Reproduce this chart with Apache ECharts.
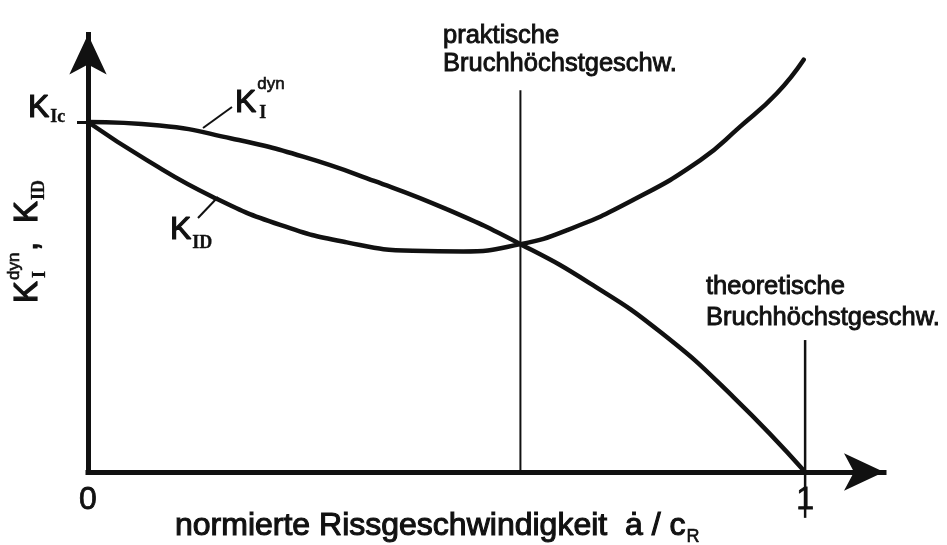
<!DOCTYPE html>
<html>
<head>
<meta charset="utf-8">
<script src="https://cdn.jsdelivr.net/npm/echarts@6/dist/echarts.min.js"></script>
<style>
  html, body { margin: 0; padding: 0; background: #fff; }
  #chart { width: 947px; height: 545px; }
</style>
</head>
<body>
<div id="chart"></div>
<script>
// Dynamic stress intensity K_I^dyn vs. crack-arrest toughness K_ID,
// over normalised crack speed a/c_R (both relative to K_Ic = 1).
const kDynX = [0, 0.100, 0.200, 0.300, 0.400, 0.500, 0.603, 0.700, 0.800, 0.900, 1.000];
const kDynY = [1.000, 0.990, 0.953, 0.901, 0.831, 0.751, 0.651, 0.539, 0.397, 0.214, 0.000];

const kIdX = [0, 0.082, 0.174, 0.268, 0.361, 0.453, 0.523, 0.603, 0.668, 0.760, 0.854, 0.909, 0.961, 0.998];
const kIdY = [1.000, 0.891, 0.786, 0.706, 0.656, 0.632, 0.630, 0.651, 0.691, 0.777, 0.891, 0.986, 1.083, 1.178];

// practical maximum crack speed (intersection) and theoretical maximum (a/c_R = 1)
const practicalX = [0.603, 0.603];
const practicalY = [0, 1.091];
const theoreticalX = [1.0, 1.0];
const theoreticalY = [-0.131, 0.377];

const xTickLabels = ['0', '1'];
const kIcValue = 1;

const INK = '#111111';
const SANS = "'Liberation Sans', Arial, sans-serif";
const SERIF = "'Liberation Serif', 'Times New Roman', serif";

const pairs = (xs, ys) => xs.map((x, i) => [x, ys[i]]);

const measureCtx = document.createElement('canvas').getContext('2d');
function widthOf(str, font) { measureCtx.font = font; return measureCtx.measureText(str).width; }
function fontOf(size, family, weight) { return (weight || 'normal') + ' ' + size + 'px ' + family; }

// text placed by its left edge and alphabetic baseline
function label(str, x, baseline, size, family, weight, heavy) {
  return {
    type: 'text', x: x, y: baseline - 0.36 * size, silent: true,
    style: {
      text: str, font: fontOf(size, family, weight), fill: INK,
      stroke: INK, lineWidth: heavy == null ? 0.9 : heavy,
      textAlign: 'left', textVerticalAlign: 'middle'
    }
  };
}
function leader(x1, y1, x2, y2) {
  return { type: 'line', silent: true, shape: { x1, y1, x2, y2 }, style: { stroke: INK, lineWidth: 2 } };
}

const K_SIZE = 32, SUB_SIZE = 18, SUP_SIZE = 17, NOTE_SIZE = 25.5;
const kW = widthOf('K', fontOf(K_SIZE, SANS));

const graphics = [];
// K_Ic next to the y-axis tick
graphics.push(label('K', 28, 120, K_SIZE, SANS, 'normal', 1.2));
graphics.push(label('Ic', 28 + kW + 1, 124, SUB_SIZE, SERIF, 'bold', 0.3));
// K_I^dyn curve label
graphics.push(label('K', 235, 115, K_SIZE, SANS, 'normal', 1.2));
graphics.push(label('dyn', 235 + kW + 1, 90, SUP_SIZE, SANS, 'normal', 0.6));
graphics.push(label('I', 235 + kW + 3, 120, SUB_SIZE, SERIF, 'bold', 0.3));
graphics.push(leader(203, 128, 232, 107));
// K_ID curve label
graphics.push(label('K', 170, 242, K_SIZE, SANS, 'normal', 1.2));
graphics.push(label('ID', 170 + kW + 1, 250, SUB_SIZE, SERIF, 'bold', 0.3));
graphics.push(leader(198, 218, 218, 197));
// notes at the two speed limits
graphics.push(label('praktische', 443, 45, NOTE_SIZE, SANS));
graphics.push(label('Bruchhöchstgeschw.', 443, 73, NOTE_SIZE, SANS));
graphics.push(label('theoretische', 706, 296, NOTE_SIZE, SANS));
graphics.push(label('Bruchhöchstgeschw.', 706, 327, NOTE_SIZE, SANS));
// x-axis title
const xTitle = 'normierte Rissgeschwindigkeit  ȧ / c';
const X_TITLE_SIZE = 32;
graphics.push(label(xTitle, 175, 538, X_TITLE_SIZE, SANS, 'normal', 1.1));
graphics.push(label('R', 175 + widthOf(xTitle, fontOf(X_TITLE_SIZE, SANS)) + 1, 544, SUB_SIZE, SANS, 'normal', 0.6));

// y-axis title, reading upwards
const Y_K = 33;
const ykW = widthOf('K', fontOf(Y_K, SANS));
graphics.push({
  type: 'group', x: 40, y: 303, rotation: Math.PI / 2, silent: true,
  children: [
    label('K', 0, 0, Y_K, SANS, 'normal', 1.2),
    label('dyn', ykW + 1, -20, SUP_SIZE, SANS, 'normal', 0.6),
    label('I', ykW + 3, 7, SUB_SIZE, SERIF, 'bold', 0.3),
    label(',', ykW + 30, 0, Y_K, SANS, 'normal', 1.2),
    label('K', 80, 0, Y_K, SANS, 'normal', 1.2),
    label('ID', 80 + ykW + 1, 6, SUB_SIZE, SERIF, 'bold', 0.3)
  ]
});

const chart = echarts.init(document.getElementById('chart'), null, { renderer: 'canvas' });
chart.setOption({
  animation: false,
  backgroundColor: '#ffffff',
  grid: { left: 88, right: 63, top: 34.5, bottom: 73, containLabel: false, outerBoundsMode: 'none' },
  xAxis: {
    type: 'value', min: 0, max: 1.11, interval: 1,
    axisLine: {
      show: true, onZero: false,
      symbol: ['none', 'arrow'], symbolSize: [28, 40],
      lineStyle: { color: INK, width: 5, cap: 'square' }
    },
    axisTick: { show: false },
    splitLine: { show: false },
    axisLabel: {
      show: true, margin: 28, verticalAlign: 'middle',
      fontSize: 32, fontFamily: SANS, color: INK,
      textBorderColor: INK, textBorderWidth: 0.8,
      formatter: v => (v === 0 ? xTickLabels[0] : v === 1 ? xTickLabels[1] : '')
    }
  },
  yAxis: {
    type: 'value', min: 0, max: 1.25,
    axisLine: {
      show: true, onZero: false,
      symbol: ['none', 'arrow'], symbolSize: [28, 40],
      lineStyle: { color: INK, width: 5, cap: 'square' }
    },
    axisTick: { show: true, customValues: [kIcValue], length: 11, lineStyle: { color: INK, width: 3 } },
    axisLabel: { show: false },
    splitLine: { show: false }
  },
  graphic: graphics,
  series: [
    {
      name: 'K_I^dyn', type: 'line', data: pairs(kDynX, kDynY),
      smooth: 0.5, showSymbol: false, silent: true, clip: false,
      lineStyle: { color: INK, width: 4.5 }
    },
    {
      name: 'K_ID', type: 'line', data: pairs(kIdX, kIdY),
      smooth: 0.5, showSymbol: false, silent: true, clip: false,
      lineStyle: { color: INK, width: 4.5, cap: 'round' }
    },
    {
      name: 'praktisch', type: 'line', data: pairs(practicalX, practicalY),
      showSymbol: false, silent: true, clip: false,
      lineStyle: { color: INK, width: 2 }
    },
    {
      name: 'theoretisch', type: 'line', data: pairs(theoreticalX, theoreticalY),
      showSymbol: false, silent: true, clip: false,
      lineStyle: { color: INK, width: 2.5 }
    }
  ]
});
</script>
</body>
</html>
